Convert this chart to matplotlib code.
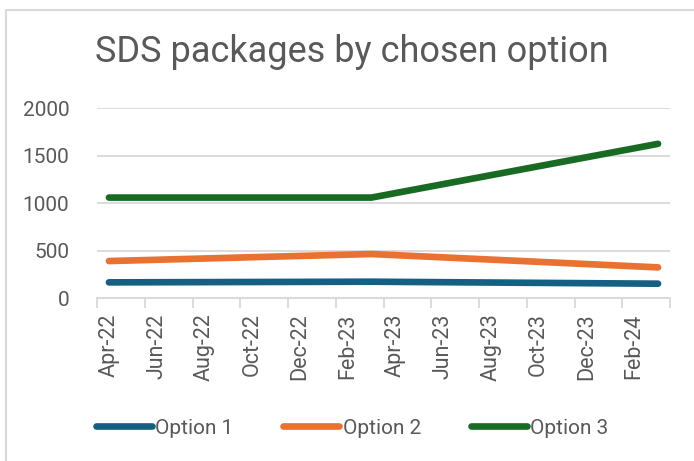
import matplotlib
matplotlib.use("Agg")
import matplotlib.pyplot as plt

# Data (month index from Apr-22, points sit in the middle of the month band)
months = [0, 11, 23]
option1 = [165, 172, 151]
option2 = [390, 464, 323]
option3 = [1060, 1060, 1627]
tick_labels = ["Apr-22", "Jun-22", "Aug-22", "Oct-22", "Dec-22", "Feb-23",
               "Apr-23", "Jun-23", "Aug-23", "Oct-23", "Dec-23", "Feb-24"]

plt.rcParams["font.family"] = ["Roboto", "DejaVu Sans"]
text_col = "#595959"
grid_col = "#d9d9d9"

fig = plt.figure(figsize=(6.94, 4.61), dpi=100)

# chart border (Excel chart area), runs off the right and bottom edges
fig.patches.append(plt.Rectangle((6 / 694, -0.1), 1.1, 1 - 10 / 461 + 0.1,
                                 transform=fig.transFigure, fill=False,
                                 edgecolor="#d9d9d9", linewidth=1.5))

ax = fig.add_axes([97 / 694, 1 - 298 / 461, 573 / 694, 189.5 / 461])

x = [m + 0.5 for m in months]
ax.plot(x, option1, color="#156082", lw=4.8, solid_capstyle="round", label="Option 1")
ax.plot(x, option2, color="#E97132", lw=4.8, solid_capstyle="round", label="Option 2")
ax.plot(x, option3, color="#196B24", lw=4.8, solid_capstyle="round", label="Option 3")

ax.set_xlim(0, 24)
ax.set_ylim(0, 2000)
ax.set_yticks([0, 500, 1000, 1500, 2000])
ax.yaxis.grid(True, color=grid_col, lw=1.3)
ax.set_axisbelow(True)

# tick marks between the 2-month bands, labels in the middle of first month
ax.set_xticks(range(0, 25, 2), minor=True)
ax.set_xticks([i * 2 + 0.5 for i in range(len(tick_labels))])
ax.set_xticklabels(tick_labels, rotation=90)
ax.tick_params(axis="x", which="major", length=0, pad=11, labelsize=15.5, labelcolor=text_col)
ax.tick_params(axis="x", which="minor", length=7, color=grid_col, width=1.3)
ax.tick_params(axis="y", length=0, pad=20, labelsize=15, labelcolor=text_col)

for s in ["top", "right", "left"]:
    ax.spines[s].set_visible(False)
ax.spines["bottom"].set_color(grid_col)
ax.spines["bottom"].set_linewidth(1.3)

fig.text(352 / 694, 1 - 52 / 461, "SDS packages by chosen option", ha="center", va="center",
         fontsize=26, color=text_col)

fig.legend(loc="center", bbox_to_anchor=(352 / 694, 1 - 428 / 461), ncol=3, frameon=False,
           fontsize=15, labelcolor=text_col, handlelength=2.7, handletextpad=0.15,
           columnspacing=2.4)

fig.savefig("out.png", dpi=100)
